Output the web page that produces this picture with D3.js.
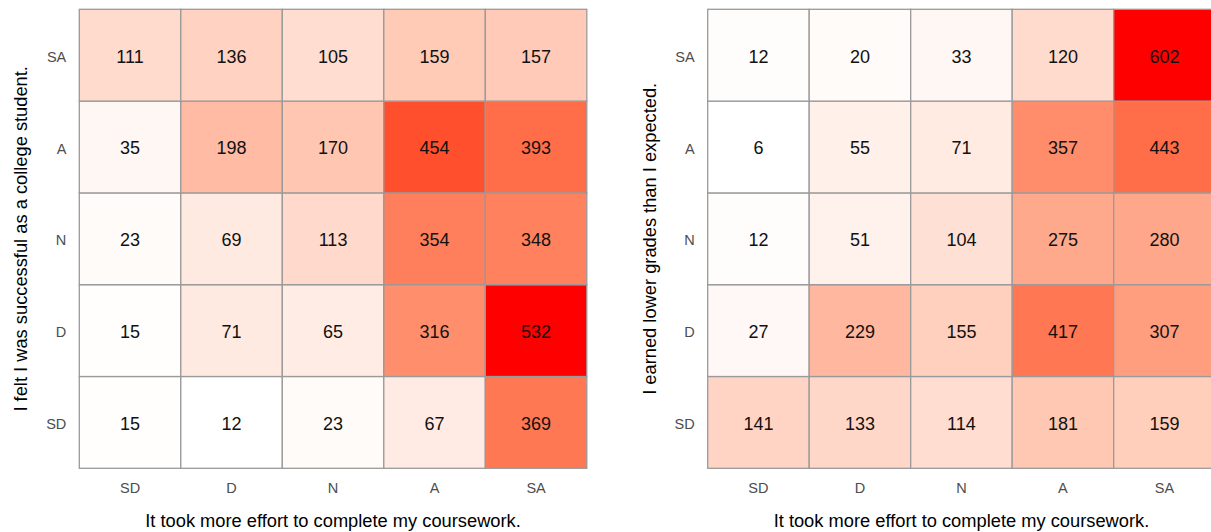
<!doctype html>
<html lang="en">

<head>
  <title>Effort vs. outcome heatmaps</title>
  <meta charset="utf-8" />
  <script src="https://d3js.org/d3.v7.min.js"></script>
  <style>
    body { margin: 0; background: #fff; }
    svg { display: block; font-family: "Liberation Sans", Arial, sans-serif; }
  </style>
</head>

<body>
  <figure id="heatmaps" style="margin:0"></figure>

  <script>
    // likert levels, used for both axes
    const levels = ["SD", "D", "N", "A", "SA"];

    // counts per row (y level), columns follow levels order (x)
    const successCounts = {
      SA: [111, 136, 105, 159, 157],
      A: [35, 198, 170, 454, 393],
      N: [23, 69, 113, 354, 348],
      D: [15, 71, 65, 316, 532],
      SD: [15, 12, 23, 67, 369]
    };
    const gradesCounts = {
      SA: [12, 20, 33, 120, 602],
      A: [6, 55, 71, 357, 443],
      N: [12, 51, 104, 275, 280],
      D: [27, 229, 155, 417, 307],
      SD: [141, 133, 114, 181, 159]
    };

    const xTitle = "It took more effort to complete my coursework.";
    const leftTitle = "I felt I was successful as a college student.";
    const rightTitle = "I earned lower grades than I expected.";

    /* flatten row table into tile records */
    function toTiles(counts) {
      const tiles = [];
      levels.forEach(yl => {
        counts[yl].forEach((v, i) => {
          tiles.push({ x: levels[i], y: yl, value: v });
        });
      });
      return tiles;
    }

    const svg = d3.select("#heatmaps").append("svg")
      .attr("width", 1211)
      .attr("height", 532);

    /* draw one heatmap panel */
    function makePanel(left, counts, yTitle, yTitleX) {
      const params = { top: 9.3, bottom: 468.3, width: 507.5 };
      const tiles = toTiles(counts);

      const xScale = d3.scaleBand()
        .domain(levels)
        .range([left, left + params.width]);

      const yScale = d3.scaleBand()
        .domain(levels.slice().reverse())
        .range([params.top, params.bottom]);

      const color = d3.scaleLinear()
        .domain(d3.extent(tiles, d => d.value))
        .range(["#ffffff", "#ff0000"])
        .interpolate(d3.interpolateLab);

      const g = svg.append("g");

      const cells = g.selectAll("g.cell")
        .data(tiles)
        .enter()
        .append("g")
        .attr("class", "cell")
        .attr("transform", d => "translate(" + xScale(d.x) + "," + yScale(d.y) + ")");

      cells.append("rect")
        .attr("width", xScale.bandwidth())
        .attr("height", yScale.bandwidth())
        .attr("fill", d => color(d.value))
        .attr("stroke", "#9a9a9a")
        .attr("stroke-width", 1.3);

      cells.append("text")
        .text(d => d.value)
        .attr("x", xScale.bandwidth() / 2)
        .attr("y", yScale.bandwidth() / 2 + 1.5)
        .attr("text-anchor", "middle")
        .attr("dominant-baseline", "central")
        .attr("font-size", 18)
        .attr("fill", "#111")
        .text(d => d.value);

      // tick labels
      g.selectAll("text.xtick")
        .data(levels)
        .enter()
        .append("text")
        .attr("class", "xtick")
        .attr("x", d => xScale(d) + xScale.bandwidth() / 2)
        .attr("y", 488)
        .attr("text-anchor", "middle")
        .attr("dominant-baseline", "central")
        .attr("font-size", 14.5)
        .attr("fill", "#4d4d4d")
        .text(d => d);

      g.selectAll("text.ytick")
        .data(levels)
        .enter()
        .append("text")
        .attr("class", "ytick")
        .attr("x", left - 13)
        .attr("y", d => yScale(d) + yScale.bandwidth() / 2 + 1.5)
        .attr("text-anchor", "end")
        .attr("dominant-baseline", "central")
        .attr("font-size", 14.5)
        .attr("fill", "#4d4d4d")
        .text(d => d);

      // axis titles
      g.append("text")
        .attr("x", left + params.width / 2)
        .attr("y", 520)
        .attr("text-anchor", "middle")
        .attr("dominant-baseline", "central")
        .attr("font-size", 18.3)
        .attr("fill", "#000")
        .text(xTitle);

      g.append("text")
        .attr("transform", "translate(" + yTitleX + "," + (params.top + params.bottom) / 2 + ") rotate(-90)")
        .attr("text-anchor", "middle")
        .attr("dominant-baseline", "central")
        .attr("font-size", 18.3)
        .attr("fill", "#000")
        .text(yTitle);
    }

    makePanel(79.3, successCounts, leftTitle, 20);
    makePanel(707.7, gradesCounts, rightTitle, 649);
  </script>

</body></html>
